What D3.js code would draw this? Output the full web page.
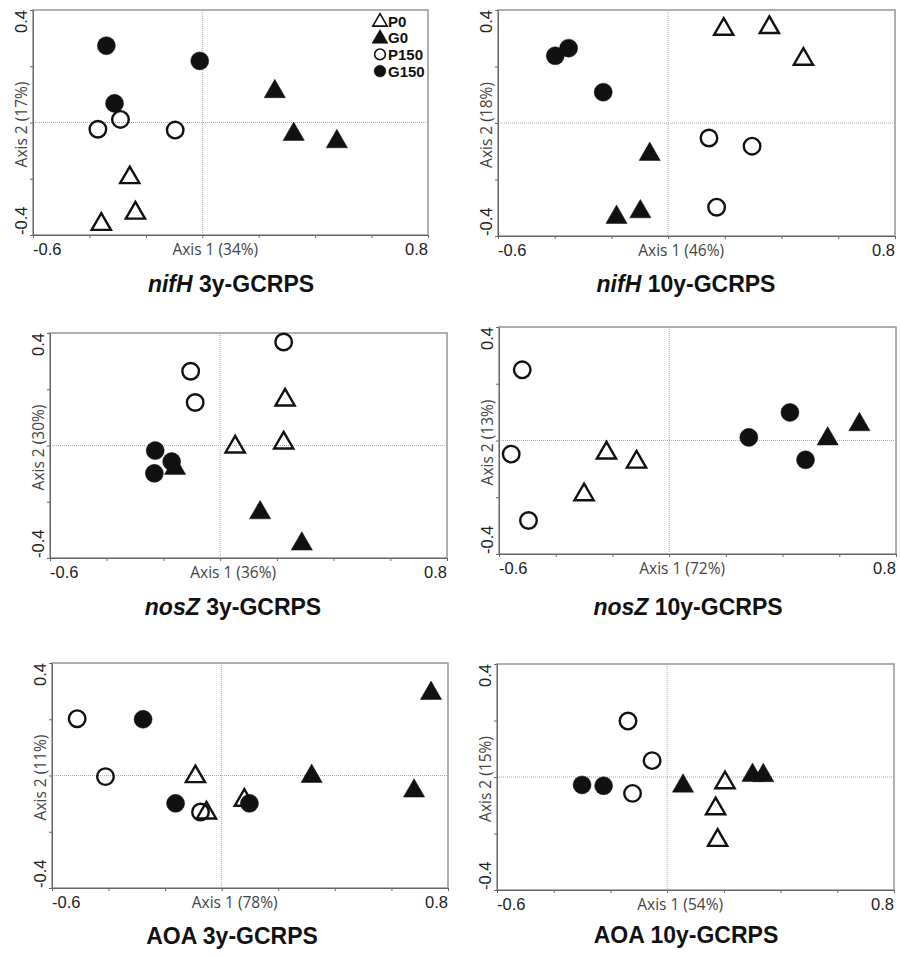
<!DOCTYPE html>
<meta charset="utf-8">
<style>
  body { margin: 0; background: #fff; }
  svg { display: block; }
  .tick text { display: none; }
</style>
<svg width="900" height="956"></svg>
<script src="https://cdn.jsdelivr.net/npm/d3@7/dist/d3.min.js"></script>
<script>
// treatments, in drawing order (filled first, open on top)
var treatments = ['P0', 'G0', 'P150', 'G150']
var drawOrder = ['G150', 'P150', 'G0', 'P0']

var xTicks = [-0.6, -0.4, -0.2, 0, 0.2, 0.4, 0.6, 0.8]
var yTicks = [-0.4, -0.2, 0, 0.2, 0.4]
var xEndLabels = ['-0.6', '0.8']
var yEndLabels = ['-0.4', '0.4']

var geneNames = ['nifH', 'nifH', 'nosZ', 'nosZ', 'AOA', 'AOA']
var geneItalic = [true, true, true, true, false, false]
var siteNames = ['3y-GCRPS', '10y-GCRPS', '3y-GCRPS', '10y-GCRPS', '3y-GCRPS', '10y-GCRPS']
var axis1Labels = ['Axis 1 (34%)', 'Axis 1 (46%)', 'Axis 1 (36%)', 'Axis 1 (72%)', 'Axis 1 (78%)', 'Axis 1 (54%)']
var axis2Labels = ['Axis 2 (17%)', 'Axis 2 (18%)', 'Axis 2 (30%)', 'Axis 2 (13%)', 'Axis 2 (11%)', 'Axis 2 (15%)']

// ordination scores [axis1, axis2]
var nifH3y = {
  P0: [[-0.257, -0.196], [-0.237, -0.322], [-0.358, -0.362]],
  G0: [[0.257, 0.110], [0.324, -0.042], [0.477, -0.068]],
  P150: [[-0.370, -0.024], [-0.290, 0.011], [-0.096, -0.027]],
  G150: [[-0.340, 0.273], [-0.009, 0.219], [-0.311, 0.068]]
}
var nifH10y = {
  P0: [[0.196, 0.332], [0.357, 0.338], [0.477, 0.226]],
  G0: [[-0.065, -0.111], [-0.098, -0.314], [-0.182, -0.334]],
  P150: [[0.144, -0.053], [0.296, -0.082], [0.171, -0.298]],
  G150: [[-0.398, 0.238], [-0.351, 0.265], [-0.229, 0.109]]
}
var nosZ3y = {
  P0: [[0.229, 0.162], [0.224, 0.009], [0.053, -0.005]],
  G0: [[0.141, -0.239], [0.288, -0.350], [-0.159, -0.081]],
  P150: [[0.224, 0.368], [-0.104, 0.264], [-0.088, 0.153]],
  G150: [[-0.229, -0.018], [-0.171, -0.057], [-0.232, -0.099]]
}
var nosZ10y = {
  P0: [[-0.221, -0.044], [-0.115, -0.076], [-0.300, -0.191]],
  G0: [[0.671, 0.056], [0.559, 0.006]],
  P150: [[-0.518, 0.249], [-0.557, -0.048], [-0.496, -0.282]],
  G150: [[0.281, 0.011], [0.426, 0.099], [0.481, -0.068]]
}
var aoa3y = {
  P0: [[-0.093, -0.004], [-0.054, -0.133], [0.080, -0.088]],
  G0: [[0.740, 0.292], [0.318, -0.003], [0.680, -0.055]],
  P150: [[-0.511, 0.202], [-0.411, -0.004], [-0.075, -0.130]],
  G150: [[-0.278, 0.200], [-0.163, -0.099], [0.098, -0.099]]
}
var aoa10y = {
  P0: [[0.204, -0.020], [0.171, -0.112], [0.178, -0.224]],
  G0: [[0.056, -0.032], [0.301, 0.006], [0.339, 0.005]],
  P150: [[-0.138, 0.198], [-0.053, 0.058], [-0.122, -0.058]],
  G150: [[-0.300, -0.028], [-0.224, -0.031]]
}
var panelData = [nifH3y, nifH10y, nosZ3y, nosZ10y, aoa3y, aoa10y]

// plot boxes, title centres and title baselines
var boxes = [
  { left: 33, right: 428, top: 10, bottom: 235, titleX: 231, titleY: 292 },
  { left: 498, right: 895, top: 10, bottom: 236, titleX: 686, titleY: 292 },
  { left: 50, right: 447, top: 333, bottom: 558, titleX: 233, titleY: 615 },
  { left: 499, right: 896, top: 327, bottom: 554, titleX: 688, titleY: 615 },
  { left: 52, right: 448, top: 663, bottom: 888, titleX: 232, titleY: 944 },
  { left: 497, right: 894, top: 664, bottom: 890, titleX: 686, titleY: 943 }
]

var filled = { P0: false, G0: true, P150: false, G150: true }
var shape = { P0: d3.symbolTriangle, G0: d3.symbolTriangle, P150: d3.symbolCircle, G150: d3.symbolCircle }
var bigSize = { P0: 160, G0: 195, P150: 215, G150: 255 }

var svg = d3.select('svg')

boxes.forEach(function (b, i) {
  var x = d3.scaleLinear().domain([-0.6, 0.8]).range([b.left, b.right])
  var y = d3.scaleLinear().domain([-0.4, 0.4]).range([b.bottom, b.top])
  var g = svg.append('g')

  g.append('rect')
      .attr('x', b.left).attr('y', b.top)
      .attr('width', b.right - b.left).attr('height', b.bottom - b.top)
      .attr('fill', 'none').attr('stroke', '#9c9c9c').attr('stroke-width', 1.6)

  // zero lines
  g.append('line')
      .attr('x1', x(0)).attr('x2', x(0)).attr('y1', b.top).attr('y2', b.bottom)
      .attr('stroke', '#aaa').attr('stroke-dasharray', '1,1')
  g.append('line')
      .attr('x1', b.left).attr('x2', b.right).attr('y1', y(0)).attr('y2', y(0))
      .attr('stroke', '#aaa').attr('stroke-dasharray', '1,1')

  var xa = g.append('g')
      .attr('transform', 'translate(0,' + b.bottom + ')')
      .call(d3.axisBottom(x).tickValues(xTicks).tickSize(3).tickSizeOuter(0))
  var ya = g.append('g')
      .attr('transform', 'translate(' + b.left + ',0)')
      .call(d3.axisLeft(y).tickValues(yTicks).tickSize(3).tickSizeOuter(0))
  xa.selectAll('path, line').attr('stroke', '#666')
  ya.selectAll('path, line').attr('stroke', '#666')

  // end tick labels
  g.append('text')
      .attr('x', x(-0.6)).attr('y', b.bottom + 20)
      .attr('font-family', 'Liberation Sans, Arial').attr('font-size', 16.5)
      .attr('fill', '#222').text(xEndLabels[0])
  g.append('text')
      .attr('x', x(0.8)).attr('y', b.bottom + 20).attr('text-anchor', 'end')
      .attr('font-family', 'Liberation Sans, Arial').attr('font-size', 16.5)
      .attr('fill', '#222').text(xEndLabels[1])
  g.append('text')
      .attr('transform', 'translate(' + (b.left - 6) + ',' + y(0.4) + ') rotate(-90)')
      .attr('text-anchor', 'end')
      .attr('font-family', 'Liberation Sans, Arial').attr('font-size', 16.5)
      .attr('fill', '#222').text(yEndLabels[1])
  g.append('text')
      .attr('transform', 'translate(' + (b.left - 6) + ',' + y(-0.4) + ') rotate(-90)')
      .attr('font-family', 'Liberation Sans, Arial').attr('font-size', 16.5)
      .attr('fill', '#222').text(yEndLabels[0])

  // axis titles
  g.append('text')
      .attr('x', x(0) + 13).attr('y', b.bottom + 20).attr('text-anchor', 'middle')
      .attr('font-family', 'Open Sans').attr('font-size', 15.5)
      .attr('fill', '#444').text(axis1Labels[i])
  g.append('text')
      .attr('transform', 'translate(' + (b.left - 6) + ',' + (y(0) + 2) + ') rotate(-90)')
      .attr('text-anchor', 'middle')
      .attr('font-family', 'Open Sans').attr('font-size', 15.5)
      .attr('fill', '#444').text(axis2Labels[i])

  // panel title
  var t = g.append('text')
      .attr('x', b.titleX).attr('y', b.titleY).attr('text-anchor', 'middle')
      .attr('font-family', 'Liberation Sans, Arial').attr('font-size', 23)
      .attr('font-weight', 'bold').attr('fill', '#111')
  t.append('tspan').attr('font-style', geneItalic[i] ? 'italic' : 'normal').text(geneNames[i])
  t.append('tspan').text(' ' + siteNames[i])

  // points
  var data = panelData[i]
  drawOrder.forEach(function (k) {
    g.selectAll(null)
      .data(data[k])
      .join('path')
        .attr('transform', function (d) { return 'translate(' + x(d[0]) + ',' + y(d[1]) + ')' })
        .attr('d', d3.symbol().type(shape[k]).size(bigSize[k]))
        .attr('fill', filled[k] ? '#111' : 'none')
        .attr('stroke', '#111')
        .attr('stroke-width', filled[k] ? 0.5 : 2.4)
        .attr('stroke-linejoin', 'miter')
  })

  // legend in the first panel
  if (i === 0) {
    var lg = g.append('g')
    treatments.forEach(function (k, j) {
      var ly = 21 + j * 16.7
      lg.append('path')
          .attr('transform', 'translate(380,' + (ly + (shape[k] === d3.symbolTriangle ? 1 : 0)) + ')')
          .attr('d', d3.symbol().type(shape[k]).size(filled[k] ? 110 : 90))
          .attr('fill', filled[k] ? '#111' : 'none')
          .attr('stroke', '#111').attr('stroke-width', filled[k] ? 0.5 : 1.6)
      lg.append('text')
          .attr('x', 388).attr('y', ly + 5.5)
          .attr('font-family', 'Liberation Sans, Arial').attr('font-size', 15)
          .attr('font-weight', 'bold').attr('fill', '#111').text(k)
    })
  }
})
</script>
